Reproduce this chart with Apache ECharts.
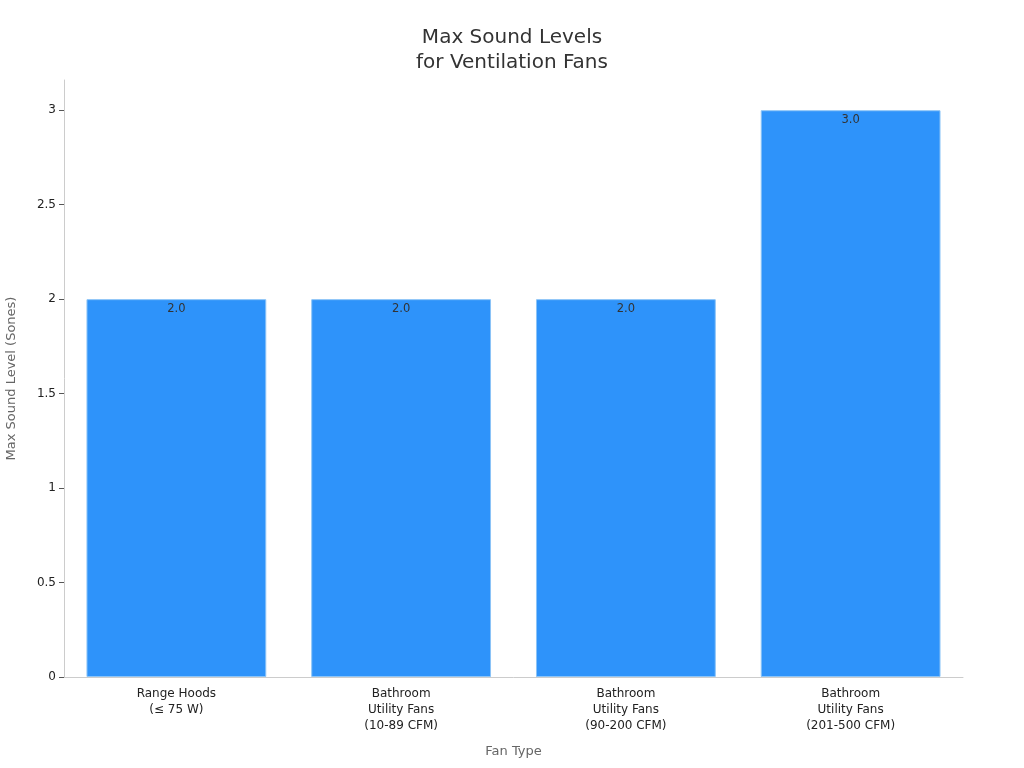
<!DOCTYPE html>
<html>
<head>
<meta charset="utf-8">
<script src="https://cdn.jsdelivr.net/npm/echarts@6/dist/echarts.min.js"></script>
<style>
  html, body { margin: 0; padding: 0; background: #fff; }
  #chart { width: 1024px; height: 768px; }
</style>
</head>
<body>
<div id="chart"></div>
<script>
// fan types and their max sound level
var categories = [
  'Range Hoods\n(\u2264 75 W)',
  'Bathroom\nUtility Fans\n(10-89 CFM)',
  'Bathroom\nUtility Fans\n(90-200 CFM)',
  'Bathroom\nUtility Fans\n(201-500 CFM)'
];
var sones = [2.0, 2.0, 2.0, 3.0];

var chart = echarts.init(document.getElementById('chart'));

var option = {
  textStyle: { fontFamily: 'DejaVu Sans' },
  title: {
    text: 'Max Sound Levels\nfor Ventilation Fans',
    left: 'center',
    top: 20,
    textStyle: { fontSize: 20, fontWeight: 'normal', color: '#333', lineHeight: 25, fontFamily: 'DejaVu Sans' }
  },
  grid: { left: 64, right: 61, top: 80, bottom: 91, outerBoundsMode: 'none' },
  xAxis: {
    type: 'category',
    data: categories,
    name: 'Fan Type',
    nameLocation: 'middle',
    nameGap: 68,
    nameTextStyle: { fontSize: 13, color: '#666' },
    axisLine: { lineStyle: { color: '#ccc' } },
    axisTick: { alignWithLabel: true, length: 5, lineStyle: { color: '#555' } },
    axisLabel: { fontSize: 12, color: '#222', lineHeight: 16, margin: 9 }
  },
  yAxis: {
    type: 'value',
    min: 0,
    max: 3.16,
    interval: 0.5,
    name: 'Max Sound Level (Sones)',
    nameLocation: 'middle',
    nameGap: 46,
    nameTextStyle: { fontSize: 13, color: '#666' },
    splitLine: { show: false },
    axisLine: { show: true, lineStyle: { color: '#ccc' } },
    axisTick: { show: true, length: 5, lineStyle: { color: '#555' } },
    axisLabel: { fontSize: 12, color: '#222', margin: 8, showMaxLabel: false }
  },
  series: [{
    type: 'bar',
    data: sones,
    barCategoryGap: '20%',
    itemStyle: { color: '#2E93FA', borderColor: '#8cc4f7', borderWidth: 1 },
    label: {
      show: true,
      position: 'insideTop',
      distance: 4,
      color: '#333',
      fontSize: 11.5,
      formatter: function (p) { return p.value.toFixed(1); }
    }
  }]
};

chart.setOption(option);
</script>
</body>
</html>
